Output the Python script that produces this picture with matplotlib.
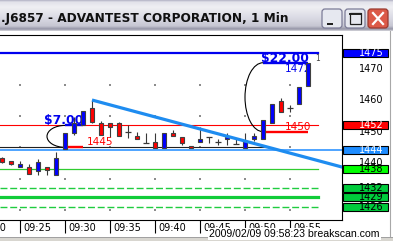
import numpy as np
import matplotlib
matplotlib.use("Agg")
import matplotlib.pyplot as plt
import matplotlib.transforms as mtransforms
from matplotlib.patches import Rectangle, Arc, FancyBboxPatch
from matplotlib.colors import to_rgb

plt.rcParams['font.family'] = ['DejaVu Sans']
plt.rcParams['lines.scale_dashes'] = False

# ---------------- data ----------------
title_text = ".J6857 - ADVANTEST CORPORATION, 1 Min"
stamp_text = "2009/02/09 09:58:23 breakscan.com"

# one-minute bars starting 09:23
opens  = [1441.5, 1440.6, 1438.7, 1438.7, 1437.4, 1438.7, 1436.2, 1444.5, 1449.6, 1452.1,
          1457.6, 1452.8, 1452.8, 1452.8, 1449.9, 1448.6, 1446.5, 1446.7, 1444.8, 1449.6,
          1448.3, 1445.4, 1446.7, 1448.3, 1446.7, 1447.7, 1446.1, 1444.8, 1447.7, 1447.7,
          1452.8, 1459.8, 1457.6, 1458.8, 1464.6]
highs  = [1442.0, 1440.6, 1440.6, 1439.7, 1441.3, 1438.7, 1443.5, 1449.6, 1454.7, 1456.6,
          1460.1, 1453.4, 1452.8, 1453.1, 1452.2, 1449.9, 1449.6, 1449.6, 1449.6, 1450.5,
          1448.3, 1445.4, 1451.5, 1448.3, 1447.7, 1449.6, 1447.7, 1449.6, 1449.6, 1453.7,
          1458.8, 1460.7, 1458.5, 1464.3, 1471.9]
lows   = [1440.0, 1439.4, 1438.7, 1436.5, 1436.2, 1436.2, 1436.2, 1444.5, 1448.9, 1452.1,
          1452.8, 1448.9, 1448.3, 1448.6, 1448.0, 1447.7, 1446.5, 1444.8, 1444.8, 1448.6,
          1445.7, 1444.8, 1446.7, 1446.4, 1445.7, 1445.7, 1446.1, 1444.8, 1447.0, 1447.7,
          1452.8, 1456.3, 1456.3, 1458.8, 1464.6]
closes = [1440.3, 1439.8, 1439.7, 1436.5, 1440.3, 1437.8, 1441.6, 1449.6, 1452.8, 1456.6,
          1453.1, 1448.9, 1451.5, 1448.6, 1449.9, 1447.7, 1446.5, 1444.8, 1449.6, 1448.6,
          1446.4, 1444.8, 1447.7, 1448.3, 1446.7, 1448.3, 1446.1, 1447.0, 1448.6, 1453.7,
          1458.8, 1456.3, 1457.6, 1464.3, 1471.9]

time_tick_bars = [-3, 2, 7, 12, 17, 22, 27, 32]
time_tick_labels = ["09:20", "09:25", "09:30", "09:35", "09:40", "09:45", "09:50", "09:55"]

price_ticks = [1470, 1460, 1450, 1440]
grid_prices = [1425, 1435, 1445, 1455, 1465, 1475]

level_prices = [1475, 1452, 1444, 1438, 1432, 1429, 1426]
level_box_colors = ['#0000ff', '#ff0000', '#1e8cff', '#00ff00', '#00cc3c', '#00cc3c', '#00cc3c']
level_text_colors = ['white', 'white', 'white', 'black', 'black', 'black', 'black']
extra_level = 1445

trade_entry_bar = [7, 29]
trade_exit_bar = [9, 34]
trade_entry_price = [1445, 1450]
trade_target_price = [1452, 1472]
trade_profit = ["$7.00", "$22.00"]
trade_target_label = [None, "1472"]

trend_bars = [10, 40]
trend_prices = [1460.1, 1437.0]

# ---------------- geometry ----------------
W, H = 393, 241
PX_PER_BAR = 9.0
X0_PX = 2.0
PX_PER_PRICE = 3.133
Y_REF_PX, P_REF = 163.0, 1440.0
PLOT_L, PLOT_R, PLOT_T, PLOT_B = 0, 342, 35, 220
LINE_END_PX = 318


def px2idx(x):
    return (x - X0_PX) / PX_PER_BAR


def py2price(y):
    return P_REF + (Y_REF_PX - y) / PX_PER_PRICE


fig = plt.figure(figsize=(W / 100, H / 100), dpi=100)
fig.patch.set_facecolor('white')

# ---- window chrome (pixel coordinates) ----
bg = fig.add_axes([0, 0, 1, 1], zorder=0)
stops_y = [0, 2, 7, 18, 26, 29, 30.5, 31]
stops_c = ['#b0b0c2', '#e2e2ea', '#efeff3', '#dadae4', '#c6c6d2', '#9494a6', '#c8c8d0', '#ffffff']
ys = np.arange(31) + 0.5
rgb = np.array([to_rgb(c) for c in stops_c])
img = np.stack([np.interp(ys, stops_y, rgb[:, k]) for k in range(3)], axis=-1)[:, None, :]
bg.imshow(img, extent=(0, W, 31, 0), aspect='auto', interpolation='bilinear', zorder=0)
bg.set_xlim(0, W)
bg.set_ylim(H, 0)
bg.axis('off')

for bx, face, edge in [(322, '#e6e8f0', '#7c7c98'), (345, '#e6e8f0', '#7c7c98'), (368, '#dc5a48', '#9a3a30')]:
    bg.add_patch(FancyBboxPatch((bx, 9), 20, 19, boxstyle="round,pad=0,rounding_size=3",
                                fc=face, ec=edge, lw=0.9, zorder=2))
bg.add_patch(Rectangle((327, 22.5), 6, 2.5, fc='#202020', ec='none', zorder=3))
bg.add_patch(Rectangle((349.5, 13), 11, 11, fc='none', ec='#202020', lw=0.9, zorder=3))
bg.plot([349.5, 360.5], [13.8, 13.8], color='#202020', lw=1.4, zorder=3)
bg.plot([373, 383], [13, 24], color='white', lw=1.6, zorder=3)
bg.plot([373, 383], [24, 13], color='white', lw=1.6, zorder=3)
bg.text(1, 18.3, title_text, fontsize=8.7, fontweight='bold', color='#101010',
        ha='left', va='center', zorder=3)

bg.plot([389.5, 389.5], [31, 237], color='#a8a8a8', lw=0.8, zorder=1)
bg.add_patch(Rectangle((0, 237), W, 4, fc='#d8d6d0', ec='none', zorder=1))
bg.plot([0, W], [237, 237], color='#a0a0a0', lw=0.7, zorder=1)

# ---- main chart ----
ax = fig.add_axes([PLOT_L / W, (H - PLOT_B) / H, (PLOT_R - PLOT_L) / W, (PLOT_B - PLOT_T) / H], zorder=2)
ax.set_facecolor('white')
xmin, xmax = px2idx(PLOT_L), px2idx(PLOT_R)
ax.set_xlim(xmin, xmax)
ax.set_ylim(py2price(PLOT_B), py2price(PLOT_T))
for s in ['top', 'right', 'bottom']:
    ax.spines[s].set_color('black')
    ax.spines[s].set_linewidth(0.8)
ax.spines['left'].set_visible(False)
ax.set_yticks([])
ax.set_xticks([t for t in time_tick_bars if t >= xmin])
ax.tick_params(axis='x', direction='out', length=13 * 0.72, width=0.8, color='black', labelbottom=False)

blend = mtransforms.blended_transform_factory(ax.transData, ax.transAxes)
for t, lab in zip(time_tick_bars, time_tick_labels):
    ax.text(t + 3 / PX_PER_BAR, -8.4 / (PLOT_B - PLOT_T), lab, transform=blend, fontsize=7,
            ha='left', va='center', color='black', clip_on=False)

# grid dots
gx, gy = np.meshgrid([t for t in time_tick_bars if t >= 0], grid_prices)
ax.scatter(gx.ravel(), gy.ravel(), s=1.2, marker='s', color='#8c8c8c', linewidths=0, zorder=1)

lend = px2idx(LINE_END_PX)
ax.plot([xmin, lend], [level_prices[0]] * 2, color='#0000ee', lw=1.6, zorder=2)
ax.plot([xmin, lend], [level_prices[1]] * 2, color='#ff0000', lw=0.8, zorder=2)
ax.plot([xmin, px2idx(268)], [extra_level] * 2, color='#202020', lw=0.8, zorder=2)
ax.plot([xmin, xmax], [level_prices[2]] * 2, color='#1e8cff', lw=1.1, zorder=2)
ax.plot([xmin, lend], [level_prices[3]] * 2, color='#30cc30', lw=0.9, zorder=2)
ax.plot([xmin, lend], [level_prices[4]] * 2, color='#20cc40', lw=1.0, dashes=(5, 2), zorder=2)
ax.plot([xmin, lend], [level_prices[5]] * 2, color='#10cc38', lw=2.3, zorder=2)
ax.plot([xmin, lend], [level_prices[6]] * 2, color='#20cc40', lw=1.0, dashes=(5, 2), zorder=2)
ax.text(px2idx(315), 1473.4, "1", fontsize=5.5, color='#404040', ha='left', va='center', zorder=3)

# trades
for eb, xb, ep, tp, prof, tl in zip(trade_entry_bar, trade_exit_bar, trade_entry_price,
                                    trade_target_price, trade_profit, trade_target_label):
    ax.plot([eb, xb], [ep, ep], color='#ff0000', lw=1.7, zorder=3, solid_capstyle='butt')
    ax.plot([eb, xb], [tp, tp], color='#0000ee', lw=1.7, zorder=3, solid_capstyle='butt')
    ax.add_patch(Arc((eb, (ep + tp) / 2), 4.0, tp - ep, theta1=90, theta2=270,
                     color='black', lw=0.8, zorder=3))
    ax.text(xb + 0.05, tp + 0.3, prof, fontsize=8.8, fontweight='bold', color='#0000ee',
            ha='right', va='baseline', zorder=3)
    ax.text(eb + 22 / PX_PER_BAR, ep, str(ep), fontsize=7.5, color='#ff0000',
            ha='left', va='bottom', zorder=7)
    if tl:
        ax.text(eb + 22 / PX_PER_BAR, tp - 0.3, tl, fontsize=7.5, color='#0000ee',
                ha='left', va='top', zorder=3)

# candles
for i, (o, h, l, c) in enumerate(zip(opens, highs, lows, closes)):
    ax.vlines(i, l, h, color='#383838', lw=0.8, zorder=5)
    if abs(c - o) < 0.05:
        ax.hlines(o, i - 0.33, i + 0.33, color='#383838', lw=0.9, zorder=6)
    else:
        col = '#0000ff' if c > o else '#ff0000'
        ax.add_patch(Rectangle((i - 0.27, min(o, c)), 0.54, abs(c - o), fc=col,
                               ec='#404040', lw=0.8, zorder=6))

# trend line
ax.plot(trend_bars, trend_prices, color='#1e8cf0', lw=2.3, zorder=8, solid_capstyle='butt')

# ---- right price column ----
ax2 = fig.add_axes([PLOT_R / W, (H - PLOT_B) / H, (W - PLOT_R) / W, (PLOT_B - PLOT_T) / H], zorder=3)
ax2.set_xlim(PLOT_R, W)
ax2.set_ylim(ax.get_ylim())
ax2.axis('off')
ax2.patch.set_alpha(0)
for p in price_ticks:
    ax2.text(383.5, p, str(p), fontsize=7, color='black', ha='right', va='center', zorder=1)
bh = 8 / PX_PER_PRICE
for p, fc, tc in zip(level_prices, level_box_colors, level_text_colors):
    ax2.add_patch(Rectangle((343, p - bh / 2), 45, bh, fc=fc, ec='black', lw=0.8, zorder=2))
    ax2.text(383.5, p, str(p), fontsize=7, color=tc, ha='right', va='center', zorder=3)

# timestamp
bg2 = fig.add_axes([0, 0, 1, 1], zorder=4)
bg2.set_xlim(0, W)
bg2.set_ylim(H, 0)
bg2.axis('off')
bg2.patch.set_alpha(0)
bg2.text(209, 234.2, stamp_text, fontsize=7.6, family='Liberation Sans', color='black',
         ha='left', va='center',
         bbox=dict(boxstyle='square,pad=0.12', fc='white', ec='none'))

fig.savefig('out.png', dpi=100)
